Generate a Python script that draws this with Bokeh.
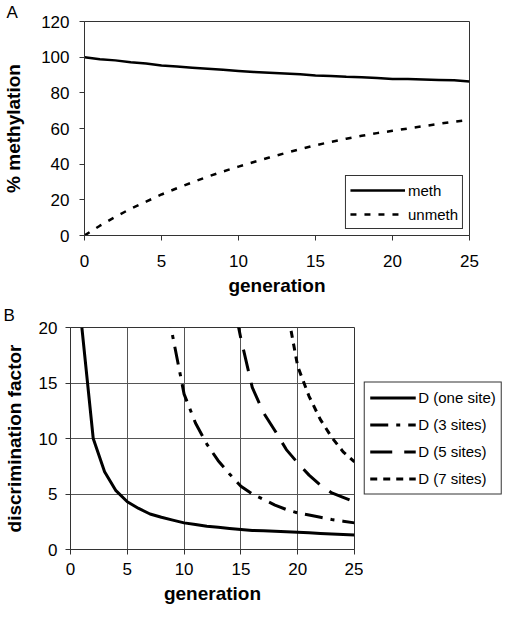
from bokeh.plotting import figure
from bokeh.layouts import column, row
from bokeh.models import Legend, LegendItem
from bokeh.embed import file_html
from bokeh.resources import INLINE

FONT = "Liberation Sans"

# ---------------- data: panel A ----------------
generation_a = list(range(0, 26))
meth = [100, 98.8, 98.2, 97.1, 96.4, 95.3, 94.7, 94.1, 93.5, 92.9, 92.3, 91.7, 91.3,
        90.9, 90.4, 89.7, 89.5, 89.0, 88.8, 88.3, 87.8, 87.7, 87.5, 87.2, 87.0, 86.4]
unmeth = [0, 5.5, 10.5, 15, 19, 23, 26.5, 29.8, 33, 35.9, 38.6, 41.2, 43.7, 46.1,
          48.4, 50.6, 52.5, 54.3, 55.9, 57.4, 58.7, 60.0, 61.3, 62.6, 63.8, 64.9]
ticks_a_x = [0, 5, 10, 15, 20, 25]
ticks_a_y = [0, 20, 40, 60, 80, 100, 120]

# ---------------- data: panel B ----------------
gen_one = list(range(1, 26))
d_one = [20, 10, 7, 5.3, 4.3, 3.7, 3.2, 2.9, 2.65, 2.4, 2.25, 2.1, 2.0, 1.9, 1.8,
         1.72, 1.68, 1.64, 1.6, 1.55, 1.5, 1.45, 1.4, 1.35, 1.3]
gen_three = list(range(8, 26))
d_three = [25, 19.2, 14, 11.4, 9.5, 8.0, 6.8, 5.7, 5.0, 4.5, 4.0, 3.6, 3.3, 3.1,
           2.9, 2.7, 2.55, 2.4]
gen_five = list(range(14, 26))
d_five = [24, 19, 14.6, 12.3, 10.7, 9.0, 7.8, 6.7, 5.8, 5.1, 4.7, 4.3]
gen_seven = list(range(19, 26))
d_seven = [22, 16.5, 13.8, 11.7, 10.1, 8.8, 7.9]
ticks_b_x = [0, 5, 10, 15, 20, 25]
ticks_b_y = [0, 5, 10, 15, 20]
labels_b = ["D (one site)", "D (3 sites)", "D (5 sites)", "D (7 sites)"]

AX = "#333333"
DASH_3 = "18 8 4 8"
DASH_5 = "22 12"
DASH_7 = "7 6"


def style(p, sx1, sx2, sy1, sy2, panel_label, label_offset, label_standoff):
    p.background_fill_color = "white"
    p.border_fill_color = "white"
    p.outline_line_color = AX
    p.outline_line_width = 1
    for ax in (p.xaxis[0], p.yaxis[0]):
        ax.axis_line_color = AX
        ax.axis_line_width = 1
        ax.major_tick_line_color = AX
        ax.major_tick_out = 5
        ax.major_tick_in = 0
        ax.minor_tick_line_color = None
        ax.major_label_text_font = FONT
        ax.major_label_text_font_size = "17px"
        ax.major_label_text_color = "black"
        ax.axis_label_text_font = FONT
        ax.axis_label_text_font_size = "19px"
        ax.axis_label_text_font_style = "bold"
        ax.axis_label_text_color = "black"
    p.xaxis[0].major_label_standoff = sx1
    p.xaxis[0].axis_label_standoff = sx2
    p.yaxis[0].major_label_standoff = sy1
    p.yaxis[0].axis_label_standoff = sy2
    p.title.text = panel_label
    p.title.align = "left"
    p.title.offset = label_offset
    p.title.standoff = label_standoff
    p.title.text_font = FONT
    p.title.text_font_size = "17px"
    p.title.text_font_style = "normal"
    p.title.text_color = "black"


def legend_style(leg):
    leg.label_text_font = FONT
    leg.label_text_font_size = "15px"
    leg.label_text_color = "black"
    leg.border_line_color = AX
    leg.border_line_width = 1
    leg.border_line_alpha = 1.0
    leg.background_fill_color = "white"
    leg.background_fill_alpha = 1.0
    leg.glyph_height = 20
    leg.label_height = 20
    leg.label_standoff = 3


# ---------------- panel A ----------------
pa = figure(frame_width=385, frame_height=214, x_range=(0, 25), y_range=(0, 120),
            output_backend="svg", toolbar_location=None,
            min_border_left=78, min_border_right=20, min_border_top=0, min_border_bottom=66,
            x_axis_label="generation", y_axis_label="% methylation")
style(pa, 14, 5, 10, 14, "A", -78, 0)
pa.xaxis.ticker = ticks_a_x
pa.yaxis.ticker = ticks_a_y
pa.xgrid.visible = False
pa.ygrid.visible = False

r_meth = pa.line(generation_a, meth, line_color="black", line_width=2.5, line_join="round")
r_unmeth = pa.line(generation_a, unmeth, line_color="black", line_width=2.5,
                   line_dash="6 8")

leg_a = Legend(items=[LegendItem(label="meth", renderers=[r_meth]),
                      LegendItem(label="unmeth", renderers=[r_unmeth])],
               location="bottom_right", margin=6, padding=4, spacing=4, glyph_width=55)
legend_style(leg_a)
pa.add_layout(leg_a)

# ---------------- panel B ----------------
pb = figure(frame_width=284, frame_height=222, x_range=(0, 25), y_range=(0, 20),
            output_backend="svg", toolbar_location=None,
            min_border_left=67, min_border_right=9, min_border_top=0, min_border_bottom=60,
            x_axis_label="generation", y_axis_label="discrimination factor")
style(pb, 8, 5, 8, 11, "B", -67, 5)
pb.xaxis.ticker = ticks_b_x
pb.yaxis.ticker = ticks_b_y
for g in (pb.xgrid[0], pb.ygrid[0]):
    g.grid_line_color = "#555555"
    g.grid_line_width = 1
pb.xgrid.ticker = ticks_b_x
pb.ygrid.ticker = ticks_b_y

pb.line(gen_one, d_one, line_color="black", line_width=3, line_join="round")
pb.line(gen_three, d_three, line_color="black", line_width=3, line_dash=DASH_3)
pb.line(gen_five, d_five, line_color="black", line_width=3, line_dash=DASH_5)
pb.line(gen_seven, d_seven, line_color="black", line_width=3, line_dash=DASH_7)

# legend for panel B: an axis-less strip to the right of panel B whose
# (out-of-view) copies of the four series only serve as legend keys
pl = figure(width=139, height=307, x_range=(100, 101), y_range=(100, 101),
            output_backend="svg", toolbar_location=None,
            x_axis_location=None, y_axis_location=None,
            min_border_left=0, min_border_right=0, min_border_top=25, min_border_bottom=60)
pl.outline_line_color = None
pl.xgrid.visible = False
pl.ygrid.visible = False
pl.background_fill_color = "white"
pl.border_fill_color = "white"
k1 = pl.line(gen_one, d_one, line_color="black", line_width=3)
k3 = pl.line(gen_three, d_three, line_color="black", line_width=3, line_dash=DASH_3)
k5 = pl.line(gen_five, d_five, line_color="black", line_width=3, line_dash=DASH_5)
k7 = pl.line(gen_seven, d_seven, line_color="black", line_width=3, line_dash=DASH_7)

leg_b = Legend(items=[LegendItem(label=labels_b[0], renderers=[k1]),
                      LegendItem(label=labels_b[1], renderers=[k3]),
                      LegendItem(label=labels_b[2], renderers=[k5]),
                      LegendItem(label=labels_b[3], renderers=[k7])],
               location="center", margin=0, padding=5, spacing=7, glyph_width=46)
legend_style(leg_b)
pl.add_layout(leg_b)

layout = column(row(pa), row(pb, pl))
open("out.html", "w").write(file_html(layout, INLINE))
